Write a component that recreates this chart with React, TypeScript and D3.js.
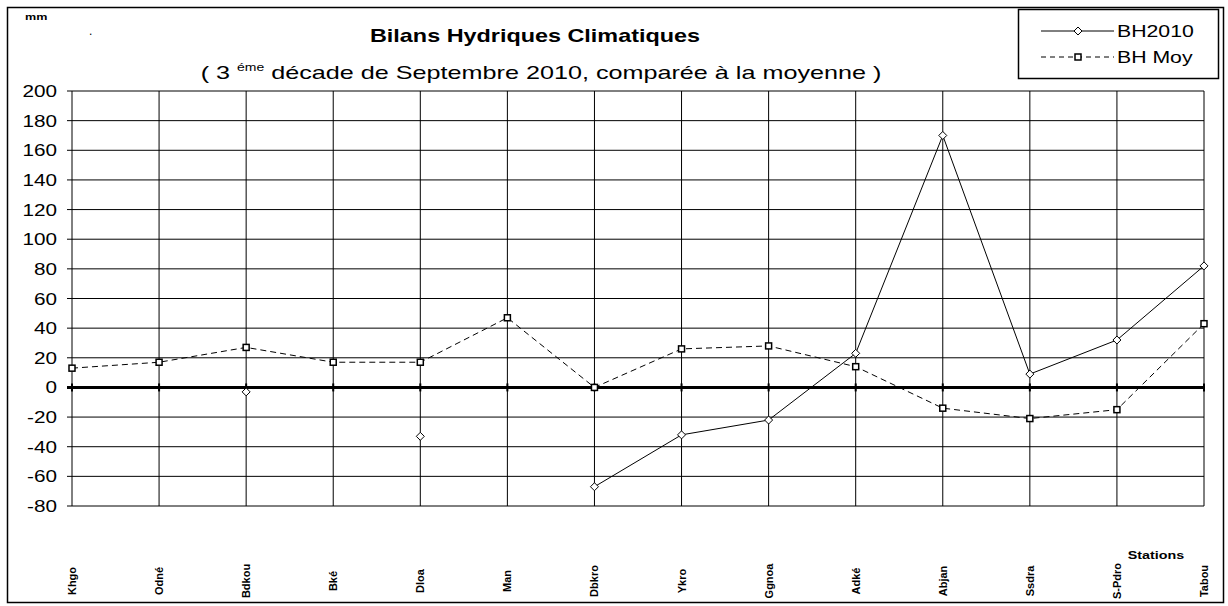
import React, { useRef, useEffect } from "react";
import * as d3 from "d3";

// stations along the x axis
const stations = ["Khgo", "Odné", "Bdkou", "Bké", "Dloa", "Man", "Dbkro", "Ykro", "Ggnoa", "Adké", "Abjan", "Ssdra", "S-Pdro", "Tabou"];
// water balance 2010 (null = no value)
const bh2010 = [null, null, -3, null, -33, null, -67, -32, -22, 23, 170, 9, 32, 82];
// average water balance
const bhMoy = [13, 17, 27, 17, 17, 47, 0, 26, 28, 14, -14, -21, -15, 43];
const yTicks = [200, 180, 160, 140, 120, 100, 80, 60, 40, 20, 0, -20, -40, -60, -80];

const FONT = "'Liberation Sans', Arial, sans-serif";

const App = () => {
  const ref = useRef<SVGSVGElement | null>(null);

  useEffect(() => {
    const svg = d3.select(ref.current);
    svg.selectAll("*").remove();

    const left = 72, right = 1204, top = 91, bottom = 506;
    const x = d3.scalePoint<string>().domain(stations).range([left, right]);
    const y = d3.scaleLinear().domain([-80, 200]).range([bottom, top]);

    // the original picture is stretched sideways, so text is too
    const stretched = (parent: any, tx: number, ty: number, sx: number) =>
      parent.append("text").attr("transform", `translate(${tx},${ty}) scale(${sx},1)`).attr("font-family", FONT);

    // outer frame
    svg.append("rect").attr("x", 7.5).attr("y", 7.5).attr("width", 1216).attr("height", 595)
      .attr("fill", "#fff").attr("stroke", "#000").attr("stroke-width", 1.5);

    // horizontal grid + y ticks
    const g = svg.append("g");
    yTicks.forEach((t) => {
      if (t === 0) return;
      g.append("line").attr("x1", left - 5).attr("x2", right).attr("y1", y(t)).attr("y2", y(t))
        .attr("stroke", "#000").attr("stroke-width", 1);
    });
    // vertical grid
    stations.forEach((s) => {
      g.append("line").attr("x1", x(s)!).attr("x2", x(s)!).attr("y1", top).attr("y2", bottom)
        .attr("stroke", "#000").attr("stroke-width", 1);
    });
    // zero axis
    g.append("line").attr("x1", left - 5).attr("x2", right).attr("y1", y(0)).attr("y2", y(0))
      .attr("stroke", "#000").attr("stroke-width", 3);
    stations.forEach((s) => {
      g.append("line").attr("x1", x(s)!).attr("x2", x(s)!).attr("y1", y(0) - 4).attr("y2", y(0) + 4)
        .attr("stroke", "#000").attr("stroke-width", 2);
    });

    // y labels
    yTicks.forEach((t) => {
      stretched(svg, 57, y(t) + 6, 1.22).attr("text-anchor", "end").attr("font-size", 17).text(t);
    });

    // x labels (rotated)
    svg.append("g").selectAll("text").data(stations).enter().append("text")
      .attr("transform", (d) => `translate(${x(d)! + 4},581) rotate(-90)`)
      .attr("text-anchor", "middle").attr("font-family", FONT).attr("font-size", 11)
      .attr("font-weight", "bold").text((d) => d);

    stretched(svg, 1156, 559, 1.3).attr("text-anchor", "middle").attr("font-size", 11)
      .attr("font-weight", "bold").text("Stations");

    // series
    const data2010 = stations.map((s, i) => ({ s, v: bh2010[i] }));
    const dataMoy = stations.map((s, i) => ({ s, v: bhMoy[i] }));
    const line = d3.line<{ s: string; v: number | null }>()
      .defined((d) => d.v != null)
      .x((d) => x(d.s)!).y((d) => y(d.v as number));

    svg.append("path").attr("d", line(dataMoy)).attr("fill", "none")
      .attr("stroke", "#000").attr("stroke-width", 1).attr("stroke-dasharray", "6,4");
    svg.append("path").attr("d", line(data2010)).attr("fill", "none")
      .attr("stroke", "#000").attr("stroke-width", 1);

    svg.append("g").selectAll("rect").data(dataMoy).enter().append("rect")
      .attr("x", (d) => x(d.s)! - 3).attr("y", (d) => y(d.v as number) - 3)
      .attr("width", 6).attr("height", 6).attr("fill", "#fff").attr("stroke", "#000").attr("stroke-width", 1.5);

    const diamond = (cx: number, cy: number) => `M${cx},${cy - 4}L${cx + 4},${cy}L${cx},${cy + 4}L${cx - 4},${cy}Z`;
    svg.append("g").selectAll("path").data(data2010.filter((d) => d.v != null)).enter().append("path")
      .attr("d", (d) => diamond(x(d.s)!, y(d.v as number)))
      .attr("fill", "#fff").attr("stroke", "#000").attr("stroke-width", 1);

    // titles
    stretched(svg, 25, 20, 1.4).attr("font-size", 9).attr("font-weight", "bold").text("mm");
    svg.append("text").attr("x", 89).attr("y", 35).attr("font-family", FONT).attr("font-size", 12).text(".");
    stretched(svg, 535, 42, 1.3).attr("text-anchor", "middle").attr("font-size", 18)
      .attr("font-weight", "bold").text("Bilans Hydriques Climatiques");
    const sub = stretched(svg, 541, 79, 1.4).attr("text-anchor", "middle").attr("font-size", 18);
    sub.append("tspan").text("( 3 ");
    sub.append("tspan").attr("font-size", 10).attr("dy", -8).text("éme");
    sub.append("tspan").attr("dy", 8).text(" décade de Septembre 2010, comparée à la moyenne )");

    // legend
    const lg = svg.append("g");
    lg.append("rect").attr("x", 1018.5).attr("y", 9.5).attr("width", 200).attr("height", 69)
      .attr("fill", "#fff").attr("stroke", "#000").attr("stroke-width", 1.5);
    lg.append("line").attr("x1", 1041).attr("x2", 1114).attr("y1", 31).attr("y2", 31).attr("stroke", "#000");
    lg.append("path").attr("d", diamond(1078, 31)).attr("fill", "#fff").attr("stroke", "#000");
    stretched(lg, 1117, 37, 1.25).attr("font-size", 17).text("BH2010");
    lg.append("line").attr("x1", 1041).attr("x2", 1114).attr("y1", 57).attr("y2", 57)
      .attr("stroke", "#000").attr("stroke-dasharray", "5,4");
    lg.append("rect").attr("x", 1075).attr("y", 54).attr("width", 6).attr("height", 6)
      .attr("fill", "#fff").attr("stroke", "#000").attr("stroke-width", 1.5);
    stretched(lg, 1117, 63, 1.25).attr("font-size", 17).text("BH Moy");
  }, []);

  return (
    <svg ref={ref} width={1228} height={606}
      style={{ position: "absolute", left: 0, top: 0, background: "#fff" }} />
  );
};

export default App;
